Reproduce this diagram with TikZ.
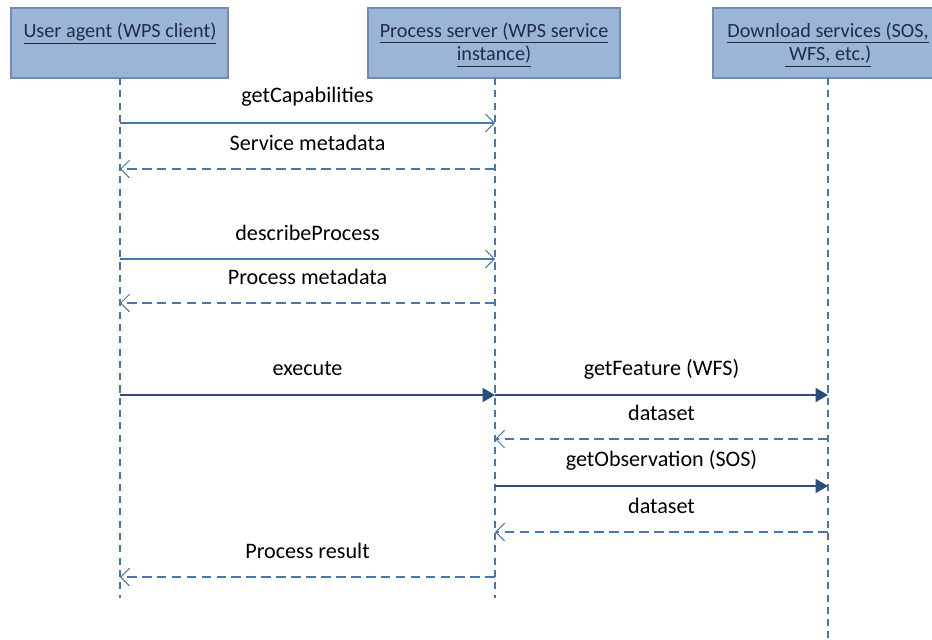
\documentclass[tikz,border=0pt]{standalone}
\usepackage{fontspec}
\setmainfont{Carlito}
\usetikzlibrary{arrows.meta}

\definecolor{boxfill}{HTML}{9BB5D6}
\definecolor{boxline}{HTML}{6F8DB8}
\definecolor{boxtext}{HTML}{1F2D4A}
\definecolor{msgline}{HTML}{4A76AE}
\definecolor{msgdark}{HTML}{2B4D7C}

\tikzset{
  actor/.style={draw=boxline, fill=boxfill, line width=0.6pt},
  actortext/.style={anchor=north, align=center, text=boxtext, inner sep=0pt,
    font=\fontsize{11.5}{13.5}\selectfont},
  lifeline/.style={draw=msgline, line width=0.6pt, dash pattern=on 4pt off 3pt},
  msglabel/.style={midway, yshift=14.8pt, font=\fontsize{12.6}{14}\selectfont},
  call/.style={draw=msgline, line width=0.6pt,
    -{Straight Barb[length=5pt,width=10pt,line width=0.6pt]}},
  reply/.style={draw=msgline, line width=0.6pt, dash pattern=on 5.5pt off 3pt,
    -{Straight Barb[length=5pt,width=10pt,line width=0.6pt]}},
  firm/.style={draw=msgdark, line width=0.7pt,
    -{Triangle[length=7pt,width=8pt]}},
}

\begin{document}
\begin{tikzpicture}[x=0.02cm,y=-0.02cm]
\useasboundingbox (0,0) rectangle (932,639);

% actors
\path[actor] (11,8) rectangle (228,78);
\path[actor] (368,8) rectangle (620,78);
\path[actor] (713,8) rectangle (945,78);
\node[actortext] (uatext) at (120,22) {\underline{User agent (WPS client)}};
\node[actortext] (pstext) at (494,22) {\underline{Process server (WPS service}\\\underline{instance)}};
\node[actortext] (dstext) at (828,22) {\underline{Download services (SOS,}\\\underline{~WFS, etc.)}};

% lifelines
\coordinate (ua) at (120,78);
\coordinate (ps) at (495,78);
\coordinate (ds) at (828,78);
\coordinate (uaend) at (120,598);
\coordinate (psend) at (495,598);
\coordinate (dsend) at (828,638);
\path[lifeline] (ua) -- (uaend);
\path[lifeline] (ps) -- (psend);
\path[lifeline] (ds) -- (dsend);

% message points
\coordinate (ua1) at (120,123); \coordinate (ps1) at (495,123);
\coordinate (ua2) at (120,169); \coordinate (ps2) at (495,169);
\coordinate (ua3) at (120,259); \coordinate (ps3) at (495,259);
\coordinate (ua4) at (120,303); \coordinate (ps4) at (495,303);
\coordinate (ua5) at (120,395); \coordinate (ps5) at (495,395);
\coordinate (ds5) at (828,395);
\coordinate (ps6) at (495,439); \coordinate (ds6) at (828,439);
\coordinate (ps7) at (495,486); \coordinate (ds7) at (828,486);
\coordinate (ps8) at (495,532); \coordinate (ds8) at (828,532);
\coordinate (ua9) at (120,577); \coordinate (ps9) at (495,577);

% messages
\path[call] (ua1) -- node[msglabel] (m1) {getCapabilities} (ps1);
\path[reply] (ps2) -- node[msglabel] (m2) {Service metadata} (ua2);
\path[call] (ua3) -- node[msglabel] (m3) {describeProcess} (ps3);
\path[reply] (ps4) -- node[msglabel] (m4) {Process metadata} (ua4);
\path[firm] (ua5) -- node[msglabel] (m5) {execute} (ps5);
\path[firm] (ps5) -- node[msglabel] (m6) {getFeature (WFS)} (ds5);
\path[reply] (ds6) -- node[msglabel] (m7) {dataset} (ps6);
\path[firm] (ps7) -- node[msglabel] (m8) {getObservation (SOS)} (ds7);
\path[reply] (ds8) -- node[msglabel] (m9) {dataset} (ps8);
\path[reply] (ps9) -- node[msglabel] (m10) {Process result} (ua9);
\end{tikzpicture}
\end{document}
